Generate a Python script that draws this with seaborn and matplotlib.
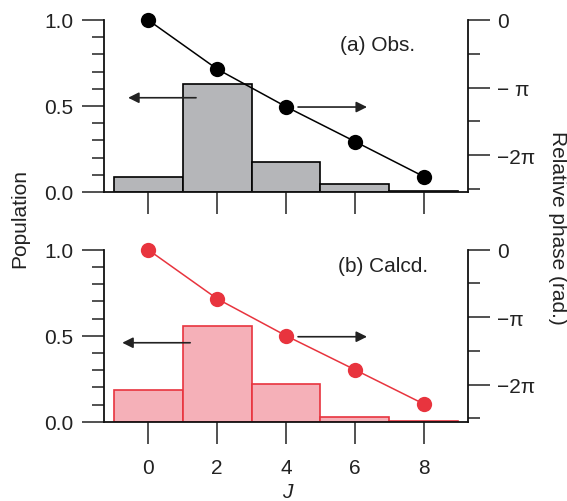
import numpy as np
import pandas as pd
import matplotlib
matplotlib.use("Agg")
import matplotlib.pyplot as plt
import seaborn as sns
from matplotlib.ticker import FixedLocator, MultipleLocator

# ---- data ----
J = [0, 2, 4, 6, 8]
bin_edges = [-1, 1, 3, 5, 7, 9]
pop_obs = [0.09, 0.63, 0.175, 0.045, 0.004]
pop_calc = [0.183, 0.556, 0.221, 0.027, 0.003]
# relative phase in units of pi
phase_obs = [0.0, -0.726, -1.284, -1.80, -2.32]
phase_calc = [0.0, -0.726, -1.274, -1.778, -2.286]
phase_ticks = [0, -1, -2]
phase_labels_a = ["0", "\u2212 \u03c0", "\u22122\u03c0"]
phase_labels_b = ["0", "\u2212\u03c0", "\u22122\u03c0"]
x_ticks = [0, 2, 4, 6, 8]

FS = 15

sns.set_theme(style="ticks")
plt.rcParams["font.family"] = ["Liberation Sans", "DejaVu Sans"]
plt.rcParams["font.size"] = FS

W, H = 567, 502
fig = plt.figure(figsize=(W / 100, H / 100), dpi=100)

def px_axes(l, r, t, b):
    return [l / W, 1 - b / H, (r - l) / W, (b - t) / H]

panels = [
    dict(rect=px_axes(104, 468, 21, 193), pop=pop_obs, ph=phase_obs,
         fill="#b5b6b9", edge="black", line="black", labels=phase_labels_a,
         text="(a) Obs.", tpos=(5.57, 0.856),
         larrow=(1.39, -0.58, 0.548), rarrow=(4.35, 6.35, 0.494), xlabels=False),
    dict(rect=px_axes(104, 468, 250.7, 422.7), pop=pop_calc, ph=phase_calc,
         fill="#f5b0b8", edge="#e8343e", line="#e8343e", labels=phase_labels_b,
         text="(b) Calcd.", tpos=(5.5, 0.908),
         larrow=(1.22, -0.75, 0.459), rarrow=(4.35, 6.35, 0.494), xlabels=True),
]

for p in panels:
    ax = fig.add_axes(p["rect"])
    sns.histplot(x=J, weights=p["pop"], bins=bin_edges, ax=ax,
                 color=p["fill"], edgecolor=p["edge"], linewidth=1.2, alpha=1)
    ax.set_xlim(-1.28, 9.28)
    ax.set_ylim(0, 1)
    ax.set_xlabel("")
    ax.set_ylabel("")
    ax.set_yticks([0, 0.5, 1.0])
    ax.set_yticklabels(["0.0", "0.5", "1.0"])
    ax.yaxis.set_minor_locator(MultipleLocator(0.1))
    ax.set_xticks(x_ticks)
    ax.set_xticklabels([str(v) for v in x_ticks])
    ax.tick_params(axis="y", which="major", length=16, width=1.1, pad=6, labelsize=FS,
                   color="#222", labelcolor="#222")
    ax.tick_params(axis="y", which="minor", length=8.6, width=1.1, color="#222")
    ax.tick_params(axis="x", which="major", length=16, width=1.1, pad=10, labelsize=FS,
                   labelbottom=p["xlabels"], color="#222", labelcolor="#222")
    for s in ["top", "right"]:
        ax.spines[s].set_visible(False)
    for s in ["left", "bottom"]:
        ax.spines[s].set_linewidth(1.3)
        ax.spines[s].set_color("#111")

    ax2 = ax.twinx()
    sns.lineplot(x=J, y=p["ph"], ax=ax2, color=p["line"], marker="o", markersize=11,
                 linewidth=1.1, markeredgewidth=0, clip_on=False)
    ax2.set_ylim(-2.548, 0)
    ax2.set_xlim(-1.28, 9.28)
    ax2.set_ylabel("")
    ax2.yaxis.set_major_locator(FixedLocator(phase_ticks))
    ax2.set_yticklabels(p["labels"])
    ax2.yaxis.set_minor_locator(FixedLocator([-0.5, -1.5, -2.5]))
    ax2.tick_params(axis="y", which="major", length=16, width=1.1, pad=5, labelsize=FS,
                    color="#222", labelcolor="#222")
    ax2.tick_params(axis="y", which="minor", length=8.6, width=1.1, color="#222")
    for s in ["top", "left", "bottom"]:
        ax2.spines[s].set_visible(False)
    ax2.spines["right"].set_linewidth(1.3)
    ax2.spines["right"].set_color("#111")

    x0, x1, yl = p["larrow"]
    ax.annotate("", xy=(x1, yl), xytext=(x0, yl),
                arrowprops=dict(arrowstyle="-|>", color="#222", lw=1.2, mutation_scale=16,
                                shrinkA=0, shrinkB=0))
    x0, x1, yr = p["rarrow"]
    ax.annotate("", xy=(x1, yr), xytext=(x0, yr),
                arrowprops=dict(arrowstyle="-|>", color="#222", lw=1.2, mutation_scale=16,
                                shrinkA=0, shrinkB=0))
    ax.text(p["tpos"][0], p["tpos"][1], p["text"], ha="left", va="center", fontsize=FS, color="#222")

fig.text(20 / W, 1 - 218 / H, "Population", rotation=90, ha="center", va="center", fontsize=FS, color="#222")
fig.text(557 / W, 1 - 228 / H, "Relative phase (rad.)", rotation=270, ha="center", va="center",
         fontsize=FS, color="#222")
fig.text(287 / W, 1 - 493 / H, "J", style="italic", ha="center", va="center", fontsize=FS, color="#222")

fig.savefig("out.png", dpi=100)
